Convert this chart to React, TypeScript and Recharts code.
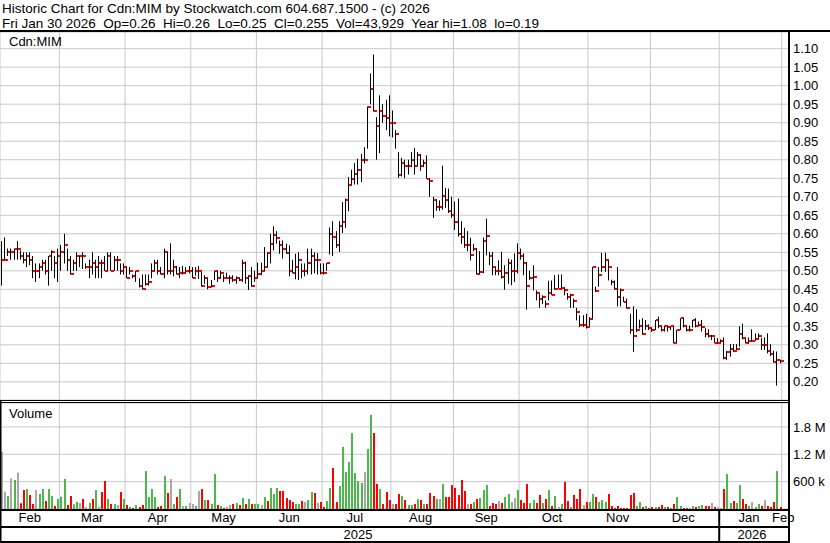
import React from 'react';
import { ComposedChart, Bar, XAxis, YAxis, CartesianGrid } from 'recharts';

const TITLE = 'Historic Chart for Cdn:MIM by Stockwatch.com 604.687.1500 - (c) 2026';
const SUBTITLE = 'Fri Jan 30 2026  Op=0.26  Hi=0.26  Lo=0.25  Cl=0.255  Vol=43,929  Year hi=1.08  lo=0.19';
const SYMBOL = 'Cdn:MIM';
const VOLUME_LABEL = 'Volume';

const high = [
  0.58,0.59,0.56,0.56,0.56,0.58,0.555,0.55,0.55,0.55,
  0.54,0.52,0.52,0.53,0.53,0.54,0.555,0.54,0.56,0.57,
  0.60,0.56,0.54,0.53,0.55,0.54,0.55,0.52,0.53,0.55,
  0.53,0.54,0.53,0.54,0.55,0.55,0.54,0.54,0.52,0.52,
  0.51,0.51,0.49,0.50,0.48,0.49,0.49,0.49,0.52,0.53,
  0.53,0.51,0.56,0.55,0.574,0.53,0.513,0.51,0.513,0.51,
  0.513,0.51,0.51,0.513,0.497,0.488,0.479,0.475,0.50,0.50,
  0.50,0.49,0.495,0.488,0.488,0.485,0.48,0.53,0.525,0.488,
  0.51,0.50,0.522,0.522,0.564,0.55,0.60,0.62,0.607,0.582,
  0.582,0.573,0.569,0.53,0.546,0.55,0.52,0.52,0.56,0.56,
  0.55,0.548,0.52,0.52,0.521,0.617,0.634,0.607,0.634,0.686,
  0.695,0.753,0.773,0.791,0.803,0.816,0.834,0.944,1.033,1.084,
  0.915,0.974,0.95,0.962,0.974,0.933,0.88,0.821,0.805,0.80,
  0.80,0.821,0.832,0.821,0.815,0.80,0.812,0.75,0.70,0.69,
  0.69,0.784,0.724,0.722,0.70,0.687,0.695,0.634,0.616,0.607,
  0.589,0.573,0.56,0.553,0.59,0.641,0.551,0.551,0.51,0.528,
  0.551,0.515,0.533,0.53,0.547,0.574,0.56,0.547,0.524,0.50,
  0.515,0.447,0.437,0.434,0.42,0.473,0.474,0.488,0.49,0.49,
  0.452,0.44,0.438,0.425,0.40,0.38,0.38,0.384,0.375,0.51,
  0.457,0.51,0.549,0.549,0.528,0.476,0.474,0.51,0.452,0.43,
  0.425,0.384,0.404,0.396,0.368,0.372,0.367,0.355,0.345,0.367,
  0.376,0.35,0.352,0.35,0.35,0.35,0.34,0.372,0.372,0.352,
  0.352,0.367,0.372,0.363,0.367,0.345,0.342,0.327,0.32,0.318,
  0.315,0.32,0.283,0.302,0.302,0.302,0.35,0.357,0.318,0.32,
  0.342,0.331,0.331,0.318,0.32,0.331,0.302,0.284,0.282,0.26,
];

const low = [
  0.46,0.53,0.54,0.53,0.53,0.53,0.53,0.52,0.51,0.515,
  0.48,0.47,0.48,0.50,0.49,0.46,0.50,0.48,0.47,0.50,
  0.52,0.50,0.49,0.50,0.50,0.51,0.505,0.505,0.48,0.49,
  0.48,0.48,0.48,0.50,0.50,0.50,0.50,0.50,0.49,0.49,
  0.48,0.49,0.48,0.47,0.455,0.45,0.46,0.46,0.48,0.50,
  0.49,0.49,0.48,0.49,0.49,0.485,0.49,0.48,0.49,0.493,
  0.493,0.48,0.487,0.478,0.457,0.465,0.45,0.455,0.475,0.47,
  0.48,0.47,0.48,0.465,0.47,0.465,0.472,0.47,0.465,0.448,
  0.457,0.47,0.48,0.488,0.50,0.51,0.52,0.555,0.573,0.546,
  0.533,0.546,0.485,0.493,0.477,0.475,0.48,0.485,0.49,0.49,
  0.493,0.49,0.49,0.49,0.50,0.544,0.54,0.562,0.551,0.602,
  0.616,0.661,0.733,0.733,0.733,0.74,0.79,0.83,0.95,0.93,
  0.80,0.818,0.90,0.88,0.863,0.86,0.83,0.751,0.755,0.75,
  0.76,0.78,0.76,0.785,0.77,0.78,0.749,0.70,0.643,0.662,
  0.662,0.665,0.67,0.656,0.643,0.61,0.592,0.573,0.562,0.553,
  0.528,0.553,0.49,0.49,0.494,0.542,0.515,0.488,0.488,0.488,
  0.479,0.449,0.465,0.461,0.47,0.493,0.53,0.488,0.395,0.475,
  0.447,0.42,0.40,0.41,0.40,0.42,0.434,0.449,0.452,0.452,
  0.434,0.422,0.40,0.40,0.366,0.348,0.348,0.344,0.35,0.371,
  0.443,0.457,0.497,0.497,0.474,0.461,0.449,0.404,0.404,0.416,
  0.398,0.33,0.281,0.335,0.344,0.327,0.34,0.34,0.335,0.34,
  0.345,0.336,0.336,0.336,0.34,0.304,0.306,0.34,0.347,0.336,
  0.336,0.347,0.347,0.352,0.336,0.32,0.32,0.313,0.304,0.304,
  0.306,0.261,0.259,0.268,0.281,0.286,0.295,0.315,0.304,0.304,
  0.309,0.311,0.318,0.286,0.286,0.277,0.27,0.252,0.19,0.25,
];

const close = [
  0.53,0.53,0.55,0.55,0.56,0.56,0.54,0.53,0.54,0.53,
  0.50,0.50,0.51,0.52,0.50,0.54,0.55,0.52,0.54,0.55,
  0.57,0.53,0.49,0.52,0.54,0.54,0.54,0.51,0.51,0.52,
  0.51,0.52,0.52,0.50,0.54,0.50,0.53,0.53,0.50,0.51,
  0.48,0.50,0.485,0.50,0.46,0.45,0.465,0.47,0.50,0.52,
  0.50,0.49,0.55,0.50,0.50,0.51,0.49,0.495,0.495,0.50,
  0.50,0.48,0.50,0.50,0.46,0.48,0.455,0.46,0.50,0.48,
  0.495,0.48,0.48,0.48,0.475,0.48,0.475,0.52,0.48,0.485,
  0.46,0.48,0.49,0.50,0.51,0.548,0.573,0.598,0.588,0.57,
  0.56,0.548,0.50,0.495,0.51,0.53,0.50,0.50,0.52,0.54,
  0.53,0.53,0.495,0.495,0.52,0.60,0.59,0.571,0.62,0.631,
  0.69,0.731,0.749,0.762,0.771,0.80,0.80,0.942,0.991,0.931,
  0.89,0.931,0.919,0.913,0.90,0.90,0.87,0.76,0.791,0.782,
  0.782,0.80,0.782,0.812,0.782,0.791,0.749,0.742,0.69,0.672,
  0.672,0.701,0.69,0.661,0.652,0.631,0.60,0.59,0.571,0.571,
  0.542,0.56,0.49,0.496,0.58,0.594,0.539,0.51,0.50,0.50,
  0.483,0.494,0.52,0.50,0.50,0.549,0.539,0.52,0.458,0.481,
  0.483,0.44,0.425,0.43,0.41,0.44,0.434,0.452,0.452,0.454,
  0.447,0.428,0.434,0.419,0.389,0.353,0.353,0.349,0.371,0.51,
  0.446,0.488,0.51,0.528,0.51,0.47,0.452,0.43,0.447,0.416,
  0.40,0.34,0.323,0.34,0.35,0.33,0.35,0.345,0.34,0.366,
  0.35,0.34,0.35,0.347,0.35,0.306,0.34,0.372,0.35,0.34,
  0.34,0.366,0.35,0.354,0.348,0.33,0.324,0.324,0.306,0.306,
  0.311,0.264,0.28,0.29,0.284,0.29,0.33,0.318,0.306,0.311,
  0.311,0.315,0.324,0.30,0.30,0.284,0.275,0.253,0.26,0.255,
];

// daily volume, thousands of shares
const volumeK = [
  1258,380,285,673,636,796,125,417,439,307,
  110,417,329,439,175,439,285,66,219,270,
  658,88,285,103,154,132,219,51,132,219,
  417,51,373,614,219,110,110,88,373,219,
  88,44,22,88,44,88,833,263,439,263,
  44,66,724,351,658,110,263,439,66,66,
  132,110,66,395,439,197,197,110,768,88,
  66,22,44,88,110,132,88,241,110,219,
  110,110,110,88,263,175,461,329,461,395,
  395,241,197,154,110,110,175,154,197,373,
  351,132,154,44,175,461,899,154,504,1362,
  811,1031,1666,789,614,570,811,1316,2065,1666,
  548,439,110,373,197,110,110,329,285,197,
  88,88,110,219,197,110,110,351,285,219,
  219,548,263,263,526,461,307,636,395,110,
  110,154,219,241,417,526,66,132,110,175,
  132,263,329,154,241,417,197,132,548,132,
  197,132,307,132,219,417,66,285,44,110,
  592,175,44,307,219,439,88,154,154,329,
  263,154,197,154,329,66,22,66,22,22,
  22,307,351,66,154,44,66,22,44,44,
  44,88,44,44,22,110,263,66,22,22,
  22,66,44,66,88,66,66,132,44,44,
  22,439,768,132,175,132,526,219,110,66,
  154,44,110,66,197,66,44,154,833,44,
];

// u = close up, d = close down, n = unchanged (as shown by volume bar colours)
const volumeDirection =
  'nnununddud' + 'dnuuduuduu' + 'udduundnud' + 'unddudundu' + 'dududduuuu' +
  'ddudnudunu' + 'nnunduduud' + 'udnndududu' + 'duunuduuud' + 'dddduudnuu' +
  'dndduudduu' + 'uuuuuunuud' + 'dudddnddud' + 'uudududddu' + 'nudddddddn' +
  'duduuudddn' + 'duunnudddu' + 'uddududunu' + 'ddudddnduu' + 'duuudddddd' +
  'ddduududdu' + 'ddududuudd' + 'nuduuddndn' + 'nduuduuddu' + 'nuudndddud';

const monthNames = ['Feb', 'Mar', 'Apr', 'May', 'Jun', 'Jul', 'Aug', 'Sep', 'Oct', 'Nov', 'Dec', 'Jan', 'Feb'];
const monthStarts = [0, 19, 40, 61, 82, 103, 125, 145, 166, 188, 208, 230, 250];
const yearNames = ['2025', '2026'];
const yearStarts = [0, 230];

const priceTicks = [0.2, 0.25, 0.3, 0.35, 0.4, 0.45, 0.5, 0.55, 0.6, 0.65, 0.7, 0.75, 0.8, 0.85, 0.9, 0.95, 1.0, 1.05, 1.1];
const volumeTicks = [600000, 1200000, 1800000];

// ---------- layout / style ----------
const SLOTS = 252;
const PLOT_W = 788;
const AXIS_W = 42;
const CHART_W = PLOT_W + AXIS_W;
const PRICE_TOP = 32;
const PRICE_H = 368;
const VOL_TOP = 403;
const VOL_PLOT_H = 106;
const MONTH_AXIS_H = 17;
const YEAR_AXIS_H = 17;
const FONT = '"Liberation Sans", Arial, Helvetica, sans-serif';
const GRID = '#c8c8c8';
const COLORS: Record<string, string> = { u: '#4cb84c', d: '#ff0000', n: '#a8a8a8' };

const midIndex = (starts: number[], k: number) => {
  const end = (k + 1 < starts.length ? starts[k + 1] : SLOTS) - 1;
  return Math.floor((starts[k] + end) / 2);
};
const monthTickIdx = monthStarts.map((_, k) => midIndex(monthStarts, k));
const yearTickIdx = yearStarts.map((_, k) => midIndex(yearStarts, k));
const monthLabelAt: Record<number, string> = {};
monthTickIdx.forEach((t, k) => { monthLabelAt[t] = monthNames[k]; });
const yearLabelAt: Record<number, string> = {};
yearTickIdx.forEach((t, k) => { yearLabelAt[t] = yearNames[k]; });

const gridX = monthStarts.map((s) => (PLOT_W * s) / SLOTS);

const rows = Array.from({ length: SLOTS }, (_, i) =>
  i < close.length
    ? { i, range: [low[i], high[i]], close: close[i], vol: volumeK[i] * 1000, dir: volumeDirection[i] }
    : { i, range: null, close: null, vol: null, dir: 'n' }
);

const OhlcShape = (props: any) => {
  const { x, y, width, height, payload } = props;
  if (!payload || !payload.range || payload.close == null) return null;
  const [lo, hi] = payload.range;
  const top = Math.min(y, y + height);
  const h = Math.abs(height);
  const cx = Math.floor(x + width / 2);
  const frac = hi > lo ? (hi - payload.close) / (hi - lo) : 0;
  const cy = top + h * frac;
  return (
    <g>
      <rect x={cx} y={top} width={1} height={Math.max(h, 1)} fill="#000" />
      <rect x={cx + 1} y={Math.round(cy) - 1} width={3} height={2} fill="#ff0000" />
    </g>
  );
};

const VolumeShape = (props: any) => {
  const { x, y, width, height, payload } = props;
  if (!payload || payload.vol == null) return null;
  const left = Math.round(x + width / 2 - 1);
  return <rect x={left} y={y} width={2} height={Math.max(height, 0)} fill={COLORS[payload.dir] || COLORS.n} />;
};

const fmtVolume = (v: number) => (v >= 1000000 ? `${(v / 1000000).toFixed(1)} M` : `${Math.round(v / 1000)} k`);

export default function App() {
  const yearSepX = (PLOT_W * yearStarts[1]) / SLOTS;
  return (
    <div style={{ position: 'absolute', left: 0, top: 0, width: 830, height: 543, background: '#fff', fontFamily: FONT, overflow: 'hidden' }}>
      <div style={{ position: 'absolute', left: 0, top: PRICE_TOP }}>
        <ComposedChart width={CHART_W} height={PRICE_H} data={rows} margin={{ top: 0, right: 0, bottom: 0, left: 0 }}>
          <CartesianGrid stroke={GRID} horizontal vertical verticalPoints={gridX} />
          <XAxis dataKey="i" type="category" hide />
          <YAxis
            orientation="right"
            width={AXIS_W}
            type="number"
            domain={[0.151, 1.145]}
            allowDataOverflow
            ticks={priceTicks}
            interval={0}
            tickLine={false}
            axisLine={false}
            tickSize={0}
            tickMargin={5}
            tick={{ fill: '#000', fontSize: 13, fontFamily: FONT }}
            tickFormatter={(v: number) => v.toFixed(2)}
          />
          <Bar dataKey="range" barSize={1} isAnimationActive={false} shape={(p: any) => <OhlcShape {...p} />} />
        </ComposedChart>
      </div>

      <div style={{ position: 'absolute', left: 0, top: VOL_TOP }}>
        <ComposedChart width={CHART_W} height={VOL_PLOT_H + MONTH_AXIS_H + YEAR_AXIS_H} data={rows} margin={{ top: 0, right: 0, bottom: 0, left: 0 }}>
          <CartesianGrid stroke={GRID} horizontal vertical verticalPoints={gridX} />
          <XAxis
            dataKey="i"
            type="category"
            height={MONTH_AXIS_H}
            ticks={monthTickIdx}
            interval={0}
            tickLine={false}
            axisLine={false}
            tickSize={0}
            tickMargin={4}
            tick={{ fill: '#000', fontSize: 13, fontFamily: FONT }}
            tickFormatter={(v: number) => monthLabelAt[v] || ''}
          />
          <XAxis
            xAxisId="year"
            dataKey="i"
            type="category"
            height={YEAR_AXIS_H}
            ticks={yearTickIdx}
            interval={0}
            tickLine={false}
            axisLine={false}
            tickSize={0}
            tickMargin={4}
            tick={{ fill: '#000', fontSize: 13, fontFamily: FONT }}
            tickFormatter={(v: number) => yearLabelAt[v] || ''}
          />
          <YAxis
            orientation="right"
            width={AXIS_W}
            type="number"
            domain={[0, 2325000]}
            allowDataOverflow
            ticks={volumeTicks}
            interval={0}
            tickLine={false}
            axisLine={false}
            tickSize={0}
            tickMargin={5}
            tick={{ fill: '#000', fontSize: 13, fontFamily: FONT }}
            tickFormatter={fmtVolume}
          />
          <Bar dataKey="vol" barSize={2} isAnimationActive={false} shape={(p: any) => <VolumeShape {...p} />} />
        </ComposedChart>
      </div>

      <svg width={830} height={543} style={{ position: 'absolute', left: 0, top: 0, pointerEvents: 'none' }}>
        <text x={2} y={12.5} fontSize={13.5} fill="#000" fontFamily={FONT}>{TITLE}</text>
        <text x={2} y={28} fontSize={13.5} fill="#000" fontFamily={FONT} style={{ whiteSpace: 'pre' }}>{SUBTITLE}</text>
        <text x={9} y={45.7} fontSize={13} fill="#000" fontFamily={FONT}>{SYMBOL}</text>
        <text x={9} y={417.7} fontSize={13} fill="#000" fontFamily={FONT}>{VOLUME_LABEL}</text>
        {/* frame */}
        <rect x={0} y={30} width={830} height={2} fill="#000" />
        <rect x={0} y={400} width={1.5} height={143} fill="#000" />
        <rect x={PLOT_W} y={30} width={2} height={513} fill="#000" />
        <rect x={0} y={400} width={PLOT_W} height={1} fill="#000" />
        <rect x={0} y={402} width={PLOT_W} height={1} fill="#000" />
        <rect x={0} y={509} width={PLOT_W} height={2} fill="#000" />
        <rect x={0} y={526} width={PLOT_W} height={2} fill="#000" />
        <rect x={0} y={541} width={PLOT_W} height={2} fill="#000" />
        <rect x={yearSepX - 1} y={509} width={2} height={34} fill="#000" />
      </svg>
    </div>
  );
}
